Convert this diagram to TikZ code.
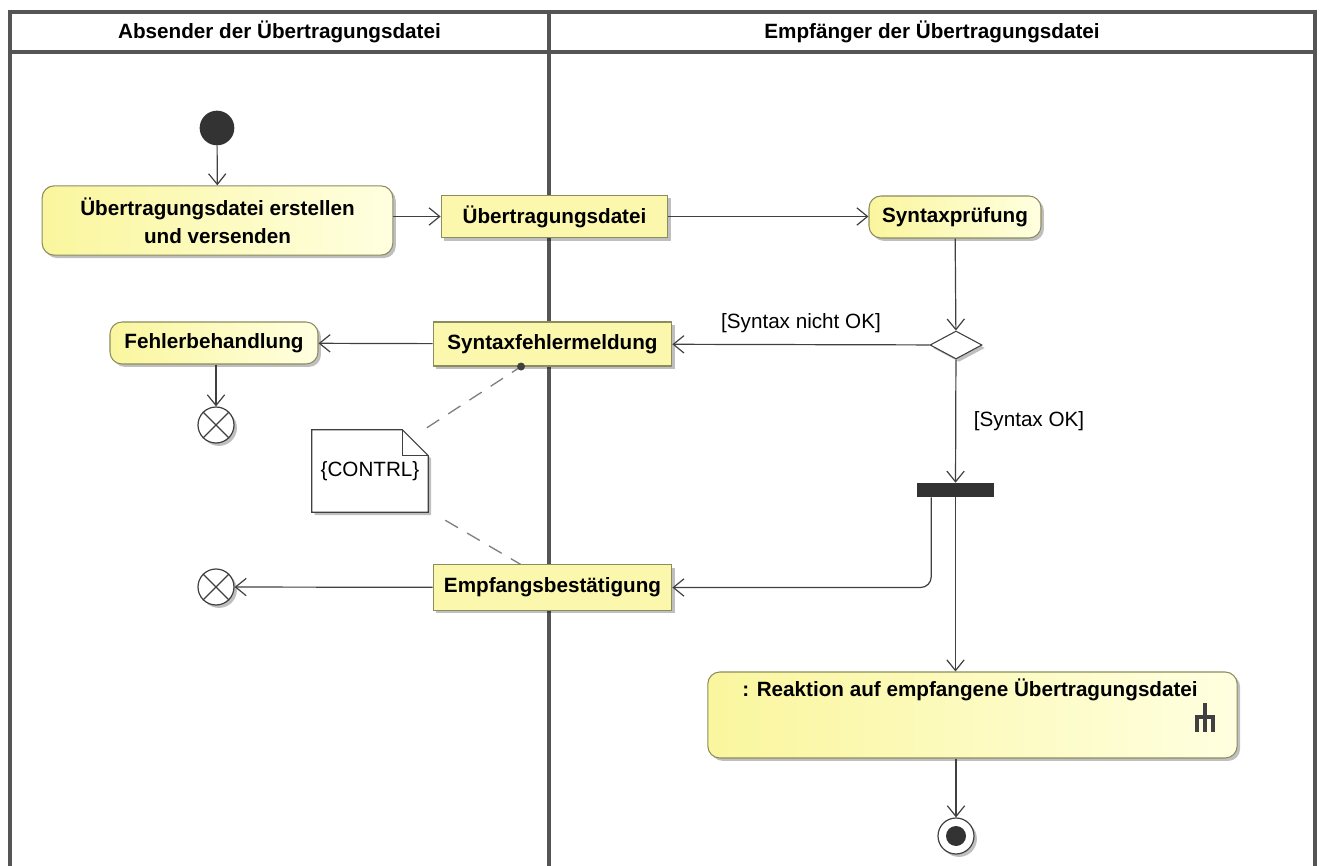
\documentclass[tikz,border=0pt]{standalone}
\usepackage{fontspec}
\setmainfont{Liberation Sans}
\usetikzlibrary{arrows.meta,shapes.geometric,shadows,backgrounds}

\definecolor{lanegray}{RGB}{85,85,85}
\definecolor{flowgray}{RGB}{64,64,64}
\definecolor{umlgelb}{RGB}{250,246,158}
\definecolor{umlhell}{RGB}{255,255,224}
\definecolor{umlrand}{RGB}{140,140,95}

\tikzset{
  lane/.style={line width=2.3pt, draw=lanegray},
  flow/.style={draw=flowgray, line width=0.9pt, -{Straight Barb[length=8pt,width=13pt]}},
  schatten/.style={drop shadow={shadow xshift=2.2pt,shadow yshift=-2.2pt,fill=black,opacity=0.25}},
  aktion/.style={draw=umlrand, line width=0.8pt, rounded corners=9pt, left color=umlgelb, right color=umlhell,
    schatten, font=\bfseries, align=center, inner sep=0pt},
  objekt/.style={draw=umlrand, line width=0.8pt, fill=umlgelb!85!white, schatten, font=\bfseries, inner sep=0pt},
  endknoten/.style={circle, draw=flowgray, line width=0.9pt, fill=white, minimum size=27pt, inner sep=0pt, schatten},
  notizlinie/.style={draw=gray, line width=1pt, dash pattern=on 11pt off 8pt}
}

\begin{document}
\fontsize{15.5}{21}\selectfont
\begin{tikzpicture}[x=0.75pt, y=-0.75pt]
	\useasboundingbox (0,0) rectangle (1322,866);

	% Schwimmbahnen
	\draw [lane] (10,866) -- (10,12) -- (1315,12) -- (1315,866);
	\draw [lane] (10,52) -- (1315,52);
	\draw [lane] (549,12) -- (549,866);
	\node [font=\bfseries] (kopfA) at (279.5,32) {Absender der Übertragungsdatei};
	\node [font=\bfseries] (kopfE) at (932,32) {Empfänger der Übertragungsdatei};

	% Absender
	\node [circle, fill=black!80, minimum size=26pt, inner sep=0pt] (start) at (217,128) {};
	\node [aktion, minimum width=263pt, minimum height=52pt] (erstellen) at (217.5,220.5) {Übertragungsdatei erstellen\\und versenden};
	\node [aktion, minimum width=156pt, minimum height=31.5pt] (behandlung) at (214,343) {Fehlerbehandlung};
	\node [endknoten] (abbruch) at (216,425) {};
	\draw [flowgray, line width=0.9pt] (abbruch.45) -- (abbruch.225) (abbruch.135) -- (abbruch.315);
	\node [endknoten] (quittung) at (216,587) {};
	\draw [flowgray, line width=0.9pt] (quittung.45) -- (quittung.225) (quittung.135) -- (quittung.315);

	% Objekte auf der Grenze
	\node [objekt, minimum width=170pt, minimum height=32pt] (datei) at (554.5,216.5) {Übertragungsdatei};
	\node [objekt, minimum width=179pt, minimum height=33pt] (fehlermeld) at (552.5,344) {Syntaxfehlermeldung};
	\node [objekt, minimum width=179pt, minimum height=34pt] (bestaet) at (552.5,587.5) {Empfangsbestätigung};

	% Empfaenger
	\node [aktion, minimum width=129pt, minimum height=31.5pt] (pruefung) at (955,217) {Syntaxprüfung};
	\node [diamond, draw=flowgray, line width=0.8pt, fill=white, minimum width=39pt, minimum height=21pt, inner sep=0pt, schatten] (entscheid) at (956,345) {};
	\node [fill=black!80, minimum width=58pt, minimum height=10.5pt, inner sep=0pt] (gabel) at (955.5,490) {};
	\node [aktion, minimum width=397pt, minimum height=64.5pt] (reaktion) at (972.5,715) {};
	\node [font=\bfseries] (reaktext) at (970,690) {: Reaktion auf empfangene Übertragungsdatei};
	\draw [draw=flowgray, line width=3pt] (1205,703) -- (1205,732);
	\draw [draw=flowgray, line width=3pt] (1197,732) -- (1197,717) -- (1213,717) -- (1213,732);
	\node [endknoten] (ende) at (956,836) {};
	\fill [black!80] (ende) circle (7.5pt);

	% Notiz
	\node [minimum width=87pt, minimum height=61.5pt, inner sep=0pt] (notiz) at (370,471) {\{CONTRL\}};
	\begin{scope}[on background layer]
		\filldraw [draw=flowgray, line width=0.8pt, fill=white, schatten] (notiz.south west) -- (notiz.north west)
			-- ([xshift=-19.5pt]notiz.north east) -- ([yshift=-19.5pt]notiz.north east) -- (notiz.south east) -- cycle;
	\end{scope}
	\draw [flowgray, line width=0.8pt] ([xshift=-19.5pt]notiz.north east) |- ([yshift=-19.5pt]notiz.north east);
	\draw [notizlinie] ([xshift=-1pt, yshift=1.5pt]notiz.north east) -- ([xshift=-23.6pt]fehlermeld.south);
	\fill [flowgray] ([xshift=-23.6pt]fehlermeld.south) circle (3pt);
	\draw [notizlinie] ([xshift=12.75pt, yshift=-6pt]notiz.south east) -- ([xshift=-24pt]bestaet.north);

	% Kanten
	\draw [flow] (start) -- (erstellen);
	\draw [flow] (erstellen.east |- datei.west) -- (datei.west);
	\draw [flow] (datei.east) -- (pruefung.west |- datei.east);
	\draw [flow] (pruefung) -- (entscheid);
	\draw [flow] (entscheid) -- node [above=3pt, font=\mdseries] {[Syntax nicht OK]} (fehlermeld);
	\draw [flow] (fehlermeld) -- (behandlung);
	\draw [flow] (abbruch |- behandlung.south) -- (abbruch);
	\draw [flow] (entscheid) -- node [right=8pt, font=\mdseries] {[Syntax OK]} (gabel);
	\draw [flow, rounded corners=8pt] ([xshift=11pt]gabel.south west) |- (bestaet);
	\draw [flow] (gabel.south) -- (gabel.south |- reaktion.north);
	\draw [flow] (bestaet) -- (quittung);
	\draw [flow] (ende |- reaktion.south) -- (ende);

\end{tikzpicture}
\end{document}
